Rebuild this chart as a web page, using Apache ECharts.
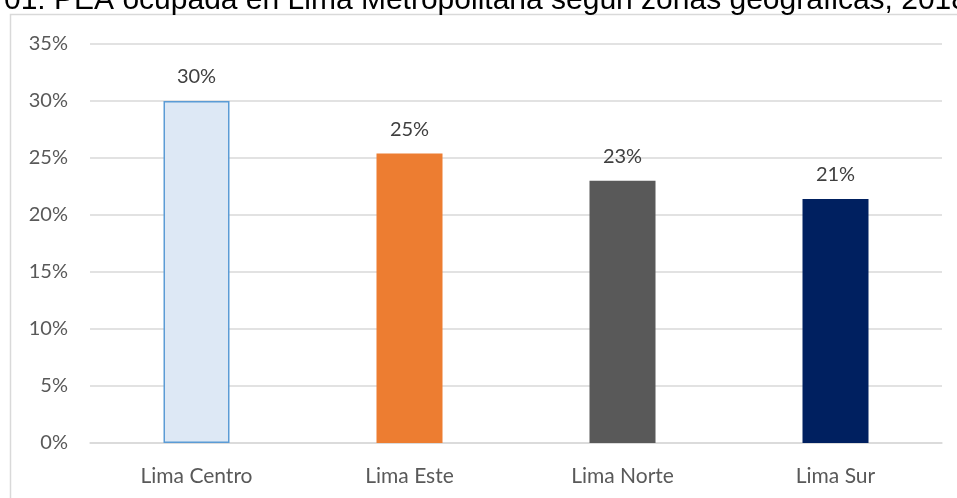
<!DOCTYPE html>
<html>
<head>
<meta charset="utf-8">
<script src="https://cdn.jsdelivr.net/npm/echarts@6/dist/echarts.min.js"></script>
<style>
html,body{margin:0;padding:0;background:#fff;}
#c{width:957px;height:498px;}
</style>
</head>
<body>
<div id="c"></div>
<script>
var titleText = '01: PEA ocupada en Lima Metropolitana según zonas geográficas, 2018';
var categories = ['Lima Centro', 'Lima Este', 'Lima Norte', 'Lima Sur'];
var values = [30.0, 25.4, 23.0, 21.4];
var barLabels = ['30%', '25%', '23%', '21%'];
var colors = ['#dde8f5', '#ed7d31', '#595959', '#002060'];

var chart = echarts.init(document.getElementById('c'), null, {renderer: 'canvas'});
var FONT = 'Lato, "Open Sans", sans-serif';
chart.setOption({
  animation: false,
  backgroundColor: '#ffffff',
  graphic: [
    {type: 'rect', shape: {x: 10.5, y: 14.5, width: 1000, height: 600}, style: {fill: 'none', stroke: '#d9d9d9', lineWidth: 1.5}, z: -1},
    {type: 'text', left: 4, top: -14, style: {text: titleText, font: '30px Arial, "Liberation Sans", sans-serif', fill: '#000'}}
  ],
  grid: {left: 90, right: 15, top: 44, bottom: 55, containLabel: false},
  xAxis: {
    type: 'category',
    data: categories,
    axisLine: {show: true, lineStyle: {color: '#d9d9d9', width: 1.5}},
    axisTick: {show: false},
    axisLabel: {color: '#595959', fontFamily: FONT, fontSize: 21, margin: 23}
  },
  yAxis: {
    type: 'value',
    min: 0, max: 35, interval: 5,
    axisLine: {show: false},
    axisTick: {show: false},
    splitLine: {lineStyle: {color: '#d9d9d9', width: 1.5}},
    axisLabel: {color: '#595959', fontFamily: FONT, fontSize: 20, margin: 22, formatter: '{value}%'}
  },
  series: [{
    type: 'bar',
    barWidth: 66,
    data: values.map(function (v, i) {
      return {
        value: v,
        itemStyle: i === 0 ? {color: colors[i], borderColor: '#5b9bd5', borderWidth: 1.5} : {color: colors[i]},
        label: {formatter: barLabels[i]}
      };
    }),
    label: {show: true, position: 'top', distance: 14, color: '#404040', fontFamily: FONT, fontSize: 20}
  }]
});
</script>
</body>
</html>
